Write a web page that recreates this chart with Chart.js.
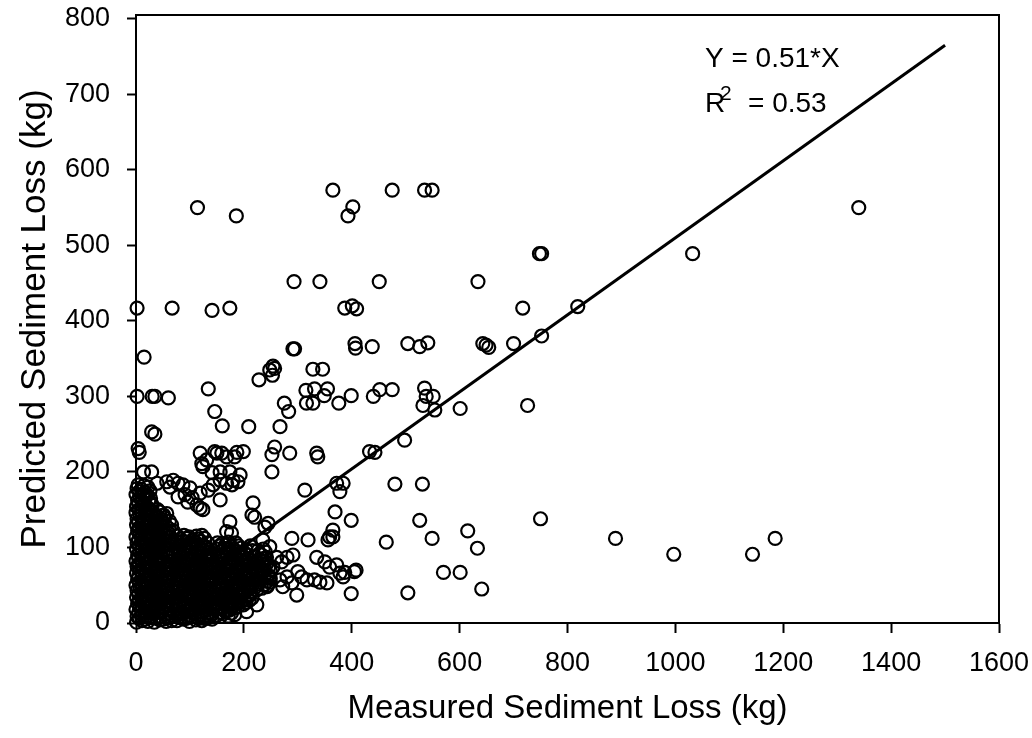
<!DOCTYPE html>
<html><head><meta charset="utf-8">
<script src="https://cdn.jsdelivr.net/npm/chart.js@4.4.1/dist/chart.umd.min.js"></script>
<style>html,body{margin:0;padding:0;background:#fff;}#wrap{width:1032px;height:738px;}</style>
</head><body><div id="wrap"><canvas id="c" width="1032" height="738"></canvas></div>
<script>
// Axis ticks
const xTickValues = [0,200,400,600,800,1000,1200,1400,1600];
const yTickValues = [0,100,200,300,400,500,600,700,800];
// Regression line Y = 0.51*X
const fitX = [0, 1500];
const fitY = [0, 765];
const equationText = 'Y = 0.51*X';
const r2Text = '= 0.53';

// [measured, predicted] pairs (kg)
const upperPoints = [
 [114,550],[186,539],[365,573],[402,551],[393,539],[475,573],[535,573],[549,573],[1340,550],
 [748,489],[752,489],[1032,489],
 [293,452],[341,452],[451,452],[634,452],
 [2,417],[67,417],[141,414],[174,417],[387,417],[401,420],[409,416],[717,417],[819,419],
 [752,380],[700,370],[643,370],[649,368],[654,365],
 [15,352],[291,363],[294,363],[406,370],[407,364],[438,366],[504,370],[526,366],[541,371],
 [228,322],[248,335],[254,340],[253,328],[257,337],[328,336],[346,336],
 [2,300],[30,300],[35,300],[60,298],[134,310],
 [146,280],[160,261],[209,260],[267,260],
 [275,291],[283,280],[315,308],[331,310],[355,310],[349,301],[316,291],[328,291],[376,291],[399,301],[440,300],[452,309],[475,309],[535,311],[538,300],[551,300],[532,288],[554,282],[601,284],[726,288],
 [29,253],[35,250],[498,242]
];
const midPoints = [
 [4,231],[6,226],[119,225],[122,211],[124,207],[131,216],[146,227],[150,225],[159,225],[168,220],[183,220],[187,226],[199,227],[141,199],[156,200],[174,200],[257,233],[252,223],[285,225],[252,200],[335,225],[337,220],[433,227],[443,226],[14,200],[29,200],
 [372,185],[378,174],[384,185],[313,176],[480,184],[531,184],
 [193,196],[189,187],[178,183],
 [217,159],[215,143],[220,140],[174,134],[168,121],[177,119],[245,132],[239,127],
 [369,147],[399,136],[365,123],[359,114],[356,110],[365,114],[526,136],[549,112],[464,107],[289,112],[319,110],
 [750,138],[615,122],[889,112],[1185,112],
 [39,185],[57,187],[69,189],[63,180],[78,185],[87,183],[100,179],[91,170],[104,166],[119,172],[134,176],[143,183],[156,189],[168,185],[180,189],[156,163],[119,152],
 [78,167],[96,160],[113,156],[124,150]
];
const lowPoints = [
 [633,99],[997,91],[1143,91],[570,67],[601,67],[641,45],
 [280,87],[291,90],[335,87],[350,81],[359,74],[372,77],[378,66],[387,67],[384,61],[405,68],[408,70],[300,68],[307,61],[317,57],[331,57],[341,54],[354,53],[272,48],[289,53],[298,37],[224,24],[205,15],[183,11],[504,40],[399,39],
 [235,110],[248,101],[261,87],[270,81],[254,74],[235,70],[248,61],[267,57],[280,61],[243,48],[224,44],[211,48]
];
const clusterPoints = [
 [1,1],[11,3],[22,2],[34,1],[44,4],[56,2],[66,3],
 [2,9],[12,11],[21,10],[33,12],[45,9],[54,11],[67,10],
 [0,18],[10,17],[23,19],[32,17],[43,20],[57,18],[65,19],
 [3,26],[13,27],[20,25],[35,26],[46,27],[53,25],[68,26],
 [1,34],[11,35],[24,33],[31,35],[44,34],[58,33],[64,35],
 [2,43],[12,41],[22,42],[33,43],[47,41],[55,43],[67,42],
 [0,50],[10,51],[21,49],[36,50],[43,51],[57,49],[66,51],
 [3,58],[14,57],[23,59],[32,58],[45,59],[54,57],[69,58],
 [1,66],[11,67],[20,65],[34,66],[46,67],[56,65],[64,66],
 [2,75],[12,73],[24,74],[31,75],[42,73],[58,74],[67,75],
 [0,82],[10,83],[22,81],[35,82],[44,83],[53,81],[66,82],
 [3,90],[13,89],[21,91],[33,90],[47,89],[55,91],[68,90],
 [1,98],[11,99],[23,97],[32,98],[43,99],[57,97],[65,98],
 [2,106],[14,107],[20,105],[36,106],[45,107],[54,105],[67,106],
 [0,114],[10,113],[24,115],[31,114],[44,113],[56,115],[64,114],
 [3,122],[12,123],[22,121],[34,122],[46,123],[58,121],[69,122],
 [1,130],[11,131],[21,129],[33,130],[43,131],[55,129],[66,130],
 [2,138],[13,137],[23,139],[35,138],[47,137],[53,139],
 [0,146],[10,147],[22,145],[32,146],[44,147],[57,145],
 [1,154],[12,155],[21,153],[30,156],
 [3,162],[11,161],[24,163],
 [0,170],[13,171],[20,169],
 [2,178],[10,177],[22,180],
 [76,3],[88,5],[99,2],[111,4],[122,3],[131,6],[141,5],
 [78,11],[87,12],[100,10],[109,12],[120,11],[133,10],[139,12],
 [77,19],[89,20],[98,18],[110,19],[122,21],[132,18],[142,20],
 [79,27],[88,26],[101,28],[111,27],[121,26],[134,28],[140,27],
 [76,35],[90,36],[99,34],[108,35],[123,36],[131,34],[143,35],
 [78,43],[87,44],[100,42],[112,43],[120,44],[133,42],[141,43],
 [77,51],[89,50],[98,52],[110,51],[122,50],[132,52],[139,51],
 [79,59],[88,60],[101,58],[109,59],[121,60],[134,58],[142,59],
 [76,67],[90,66],[99,68],[111,67],[123,66],[131,68],[140,67],
 [78,75],[87,76],[100,74],[110,75],[120,76],[133,74],[143,75],
 [77,83],[89,82],[98,84],[112,83],[122,82],[132,84],[141,83],
 [79,91],[88,92],[101,90],[109,91],[121,92],[134,90],[139,91],
 [76,99],[90,98],[99,100],[111,99],[123,98],[131,100],
 [78,107],[87,108],[100,106],[110,107],[120,108],[133,106],
 [77,115],[89,116],[98,114],[112,115],[122,116],
 [150,10],[162,12],[171,9],
 [149,18],[160,19],[173,17],[184,20],
 [151,26],[162,27],[171,25],[183,26],[195,28],[204,27],
 [148,34],[161,35],[174,33],[182,35],[193,34],[206,35],[215,33],
 [150,42],[159,43],[172,41],[185,42],[196,43],[203,41],[213,42],
 [152,50],[161,51],[170,49],[184,50],[192,51],[207,49],[216,50],
 [149,58],[163,57],[173,59],[181,58],[195,57],[205,59],[214,58],
 [151,66],[160,67],[171,65],[183,66],[194,67],[204,65],[212,66],
 [148,74],[162,73],[174,75],[186,74],[193,73],[206,75],[215,74],
 [150,82],[159,83],[172,81],[182,82],[195,83],[203,81],[213,82],
 [152,90],[161,89],[170,91],[184,90],[192,89],[205,91],
 [149,98],[163,99],[173,97],[181,98],[194,99],[204,97],
 [151,106],[160,105],[171,107],[185,106],
 [222,48],[233,46],[244,50],[221,56],[231,58],[243,55],[223,64],[234,66],[245,63],[220,72],[232,71],[246,74],[224,80],[235,82],[243,79],[221,88],[233,90],[242,87],[226,96],[236,98]
];
const clusterPoints2 = [
 [6,6],[17,5],[28,7],[39,6],[50,5],[61,7],
 [5,14],[16,15],[27,13],[39,14],[49,15],[62,13],
 [7,22],[18,21],[28,23],[38,22],[51,21],[60,23],
 [6,30],[17,31],[29,29],[40,30],[50,31],[61,29],
 [5,38],[16,37],[27,39],[39,38],[49,37],[62,39],
 [7,46],[18,47],[28,45],[38,46],[51,47],[60,45],
 [6,54],[17,53],[29,55],[40,54],[50,53],[61,55],
 [5,62],[16,63],[27,61],[39,62],[49,63],[62,61],
 [7,70],[18,69],[28,71],[38,70],[51,69],[60,71],
 [6,78],[17,79],[29,77],[40,78],[50,79],[61,77],
 [5,86],[16,85],[27,87],[39,86],[49,85],[62,87],
 [7,94],[18,95],[28,93],[38,94],[51,95],[60,93],
 [6,102],[17,101],[29,103],[40,102],[50,101],[61,103],
 [5,110],[16,111],[27,109],[39,110],[49,111],[62,109],
 [7,118],[18,117],[28,119],[38,118],[51,117],[60,119],
 [6,126],[17,127],[29,125],[40,126],[50,127],[61,125],
 [5,134],[16,133],[27,135],[39,134],[49,133],[62,135],
 [7,142],[18,143],[28,141],[38,142],[51,143],
 [6,150],[17,151],[27,149],[40,150],
 [5,158],[16,157],[28,159],
 [7,166],[18,167],[27,165],
 [6,174],[17,173],[26,175],
 [4,183],[15,182],
 [82,7],[93,6],[104,8],[115,7],[126,6],[137,8],
 [83,15],[94,16],[105,14],[116,15],[127,16],[136,14],
 [81,23],[92,22],[103,24],[114,23],[125,22],[138,24],
 [82,31],[93,32],[104,30],[115,31],[126,32],[137,30],
 [83,39],[94,38],[105,40],[116,39],[127,38],[136,40],
 [81,47],[92,48],[103,46],[114,47],[125,48],[138,46],
 [82,55],[93,54],[104,56],[115,55],[126,54],[137,56],
 [83,63],[94,64],[105,62],[116,63],[127,64],[136,62],
 [81,71],[92,70],[103,72],[114,71],[125,70],[138,72],
 [82,79],[93,80],[104,78],[115,79],[126,80],[137,78],
 [83,87],[94,86],[105,88],[116,87],[127,86],[136,88],
 [81,95],[92,96],[103,94],[114,95],[125,96],[138,94],
 [82,103],[93,102],[104,104],[115,103],[126,102],
 [83,111],[94,112],[105,110],[116,111],[127,112],
 [155,14],[166,15],[177,13],
 [156,22],[167,23],[178,21],[189,22],[199,24],
 [155,30],[166,31],[177,29],[188,30],[200,31],[210,30],
 [154,38],[165,39],[178,37],[189,38],[199,39],[211,37],
 [156,46],[167,45],[176,47],[188,46],[200,45],[209,47],
 [155,54],[166,55],[177,53],[189,54],[198,55],[210,53],
 [154,62],[165,61],[178,63],[187,62],[199,61],[211,63],
 [156,70],[167,71],[176,69],[188,70],[200,71],[209,69],
 [155,78],[166,77],[177,79],[189,78],[198,77],[210,79],
 [154,86],[165,87],[178,85],[187,86],[199,87],[208,85],
 [156,94],[167,93],[176,95],[188,94],[200,93],
 [155,102],[166,103],[177,101],[190,102],
 [227,52],[238,51],[249,54],[226,60],[238,62],[249,59],[227,68],[239,70],[226,76],[238,77],[249,70],[228,84],[239,86],[229,92],[240,94],[216,96],[212,102]
];

const FONT = "'Liberation Sans', Arial, Helvetica, sans-serif";
const allPoints = [...upperPoints, ...midPoints, ...lowPoints, ...clusterPoints, ...clusterPoints2].map(([x,y]) => ({x, y}));
const fitPoints = fitX.map((x, i) => ({x, y: fitY[i]}));

const framePlugin = {
  id: 'frame',
  afterDraw(chart) {
    const {ctx, chartArea: a} = chart;
    ctx.save();
    ctx.strokeStyle = '#000';
    ctx.lineWidth = 2;
    ctx.beginPath();
    ctx.moveTo(a.left - 1, a.top); ctx.lineTo(a.right + 1, a.top);
    ctx.moveTo(a.right, a.top); ctx.lineTo(a.right, a.bottom);
    ctx.stroke();
    ctx.fillStyle = '#000';
    ctx.textBaseline = 'alphabetic';
    ctx.textAlign = 'left';
    ctx.font = '28px ' + FONT;
    ctx.fillText(equationText, 705, 67);
    ctx.fillText('R', 705, 112);
    ctx.font = '21px ' + FONT;
    ctx.fillText('2', 720, 100);
    ctx.font = '28px ' + FONT;
    ctx.fillText(r2Text, 748, 112);
    ctx.restore();
  }
};

const noPad = s => { s.paddingLeft = 0; s.paddingRight = 0; s.paddingTop = 0; s.paddingBottom = 0; };

new Chart(document.getElementById('c'), {
  type: 'scatter',
  data: {
    datasets: [
      {
        type: 'line', data: fitPoints, borderColor: '#000', borderWidth: 3,
        pointRadius: 0, fill: false, order: 0, clip: false
      },
      {
        type: 'scatter', data: allPoints, pointStyle: 'circle', pointRadius: 6.5,
        pointBorderWidth: 2.2, borderColor: '#000', pointBorderColor: '#000',
        backgroundColor: 'rgba(0,0,0,0)', pointBackgroundColor: 'rgba(0,0,0,0)',
        order: 1, clip: false
      }
    ]
  },
  options: {
    responsive: false, animation: false, devicePixelRatio: 1,
    layout: { padding: { top: 15, right: 33, left: 0, bottom: 0 } },
    plugins: { legend: { display: false }, tooltip: { enabled: false } },
    scales: {
      x: {
        type: 'linear', min: 0, max: 1600,
        afterBuildTicks: s => { s.ticks = xTickValues.map(v => ({value: v})); },
        afterFit: s => { s.height = 115; noPad(s); },
        ticks: { color: '#000', font: { family: FONT, size: 27, lineHeight: 1 }, padding: 17, maxRotation: 0,
                 callback: v => String(v) },
        grid: { display: true, drawOnChartArea: false, drawTicks: true, tickLength: 10, tickColor: '#000', tickWidth: 2 },
        border: { display: true, color: '#000', width: 2 },
        title: { display: true, text: 'Measured Sediment Loss (kg)', color: '#000',
                 font: { family: FONT, size: 33 }, padding: { bottom: 9, top: 0 } }
      },
      y: {
        type: 'linear', min: 0, max: 805,
        afterBuildTicks: s => { s.ticks = yTickValues.map(v => ({value: v})); },
        afterFit: s => { s.width = 136; noPad(s); },
        ticks: { color: '#000', font: { family: FONT, size: 27, lineHeight: 1 }, padding: 17,
                 callback: v => String(v) },
        grid: { display: true, drawOnChartArea: false, drawTicks: true, tickLength: 9, tickColor: '#000', tickWidth: 2 },
        border: { display: true, color: '#000', width: 2 },
        title: { display: true, text: 'Predicted Sediment Loss (kg)', color: '#000',
                 font: { family: FONT, size: 35 }, padding: { top: 14, bottom: 0 } }
      }
    }
  },
  plugins: [framePlugin]
});
</script>
</body></html>
